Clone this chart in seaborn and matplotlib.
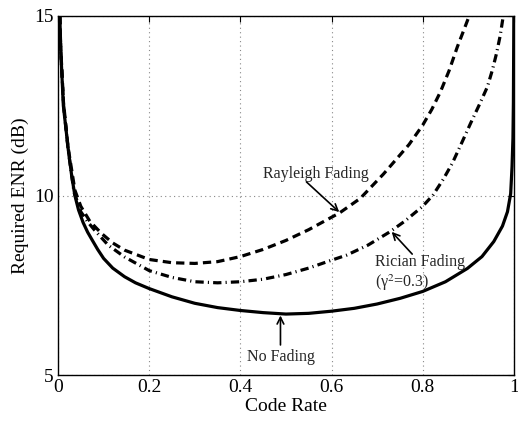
import numpy as np
import pandas as pd
import matplotlib
matplotlib.use("Agg")
import matplotlib.pyplot as plt
import seaborn as sns

# ---- data ----
nofade_rate = [0.004, 0.006, 0.0117, 0.0225, 0.03, 0.037, 0.045, 0.055, 0.065, 0.075,
               0.087, 0.1, 0.12, 0.146, 0.17, 0.2, 0.25, 0.3, 0.35, 0.4, 0.45, 0.5,
               0.55, 0.6, 0.65, 0.7, 0.751, 0.8, 0.85, 0.898, 0.93, 0.956, 0.975,
               0.986, 0.993, 0.996, 0.998, 0.999, 1.0]
nofade_enr = [15.0, 14.05, 12.5, 11.28, 10.55, 10.0, 9.6, 9.25, 8.98, 8.76,
              8.5, 8.25, 7.98, 7.74, 7.57, 7.41, 7.18, 7.0, 6.88, 6.80, 6.74, 6.70,
              6.72, 6.78, 6.86, 6.98, 7.14, 7.33, 7.6, 7.97, 8.3, 8.72, 9.15,
              9.55, 10.05, 10.8, 11.6, 12.6, 15.0]

rayleigh_rate = [0.004, 0.006, 0.012, 0.022, 0.037, 0.05, 0.07, 0.095, 0.12, 0.146, 0.2,
                 0.25, 0.3, 0.35, 0.4, 0.45, 0.5, 0.55, 0.618, 0.663, 0.714, 0.74,
                 0.77, 0.8, 0.82, 0.839, 0.858, 0.876, 0.89, 0.905]
rayleigh_enr = [15.0, 14.1, 12.6, 11.35, 10.15, 9.7, 9.28, 8.95, 8.68, 8.48, 8.22,
                8.13, 8.11, 8.16, 8.3, 8.5, 8.75, 9.05, 9.52, 9.92, 10.6, 10.98,
                11.42, 11.96, 12.4, 12.89, 13.48, 14.14, 14.6, 15.1]

rician_rate = [0.004, 0.006, 0.012, 0.022, 0.035, 0.05, 0.065, 0.08, 0.11, 0.146, 0.2,
               0.25, 0.3, 0.35, 0.4, 0.45, 0.5, 0.55, 0.6, 0.633, 0.68, 0.728, 0.76,
               0.8, 0.823, 0.845, 0.865, 0.885, 0.905, 0.925, 0.942, 0.953, 0.962,
               0.97, 0.978]
rician_enr = [15.0, 14.05, 12.55, 11.3, 10.1, 9.55, 9.27, 9.04, 8.62, 8.29, 7.91,
              7.72, 7.60, 7.57, 7.60, 7.67, 7.8, 7.98, 8.2, 8.34, 8.62, 8.99, 9.28,
              9.7, 10.02, 10.45, 10.9, 11.45, 12.01, 12.55, 13.03, 13.5, 13.96,
              14.45, 15.1]

x_ticks = [0, 0.2, 0.4, 0.6, 0.8, 1]
x_tick_labels = ["0", "0.2", "0.4", "0.6", "0.8", "1"]
y_ticks = [5, 10, 15]
y_tick_labels = ["5", "10", "15"]

# ---- style ----
sns.set_theme(style="white")
plt.rcParams["font.family"] = ["Liberation Serif", "DejaVu Serif"]
plt.rcParams["mathtext.fontset"] = "stix"

fig = plt.figure(figsize=(5.18, 4.21), dpi=100)
ax = fig.add_axes([0.112, 0.109, 0.880, 0.853])

df_nf = pd.DataFrame({"rate": nofade_rate, "enr": nofade_enr})
df_ry = pd.DataFrame({"rate": rayleigh_rate, "enr": rayleigh_enr})
df_rc = pd.DataFrame({"rate": rician_rate, "enr": rician_enr})

sns.lineplot(data=df_nf, x="rate", y="enr", ax=ax, color="black", lw=2.3,
             sort=False, estimator=None)
ax.lines[-1].set_solid_joinstyle("round")
sns.lineplot(data=df_ry, x="rate", y="enr", ax=ax, color="black", lw=2.3,
             sort=False, estimator=None)
ax.lines[-1].set_dashes([2.6, 1.6])
sns.lineplot(data=df_rc, x="rate", y="enr", ax=ax, color="black", lw=2.3,
             sort=False, estimator=None)
ax.lines[-1].set_dashes([2.6, 1.3, 0.35, 1.3])

ax.set_xlim(0, 1)
ax.set_ylim(5, 15)
ax.set_xticks(x_ticks)
ax.set_xticklabels(x_tick_labels)
ax.set_yticks(y_ticks)
ax.set_yticklabels(y_tick_labels)
ax.tick_params(direction="in", length=4, width=0.8, top=True, right=True,
               labelsize=14, colors="black", pad=3)
ax.grid(True, linestyle=(0, (1, 3)), color="#888888", lw=0.8)
for s in ax.spines.values():
    s.set_color("black")
    s.set_linewidth(1.0)

ax.set_xlabel("Code Rate", fontsize=14, color="black", labelpad=1)
ax.set_ylabel("Required ENR (dB)", fontsize=14, color="black", labelpad=4)

arrow = dict(arrowstyle="->", color="black", lw=1.2, shrinkA=0, shrinkB=0)
ax.text(0.45, 10.6, "Rayleigh Fading", fontsize=11.5, ha="left", va="center")
ax.annotate("", xy=(0.617, 9.54), xytext=(0.545, 10.38), arrowprops=arrow)

ax.text(0.695, 8.15, "Rician Fading", fontsize=11.5, ha="left", va="center")
ax.text(0.695, 7.58, "(γ$^{2}$=0.3)", fontsize=11.5, ha="left", va="center")
ax.annotate("", xy=(0.732, 8.99), xytext=(0.777, 8.37), arrowprops=arrow)

ax.text(0.49, 5.5, "No Fading", fontsize=11.5, ha="center", va="center")
ax.annotate("", xy=(0.488, 6.66), xytext=(0.488, 5.84), arrowprops=arrow)

fig.savefig("out.png", dpi=100)
